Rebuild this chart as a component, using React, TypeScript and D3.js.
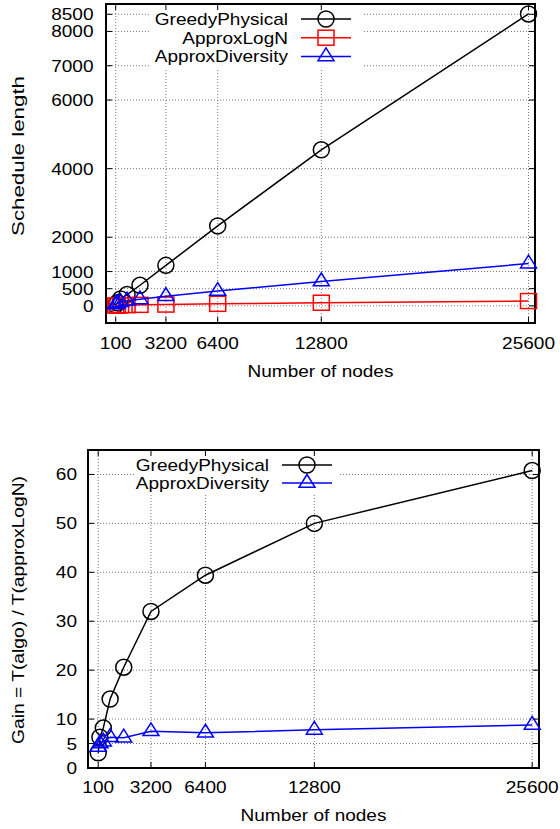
import React from "react";
import * as d3 from "d3";

// ---- data ----
const nodes = [100, 200, 400, 800, 1600, 3200, 6400, 12800, 25600];
const greedyLen = [30, 90, 200, 330, 600, 1180, 2330, 4550, 8510];
const logNLen = [9, 13, 17, 21, 29, 37, 59, 91, 140];
const diversityLen = [40, 70, 110, 150, 190, 280, 431, 710, 1232];
const greedyGain = [3.1, 6.3, 8.2, 14.1, 20.6, 32.0, 39.4, 50.0, 60.8];
const diversityGain = [4.3, 5.0, 5.4, 6.3, 6.2, 7.5, 7.2, 7.8, 8.8];

const xTicks = [100, 3200, 6400, 12800, 25600];
const yTicksTop = [0, 500, 1000, 2000, 4000, 6000, 7000, 8000, 8500];
const yTicksBot = [0, 5, 10, 20, 30, 40, 50, 60];

const FONT = "'Liberation Sans', Arial, Helvetica, sans-serif";
const FS = 17;
const SX = 1.12;

type Anchor = "start" | "middle" | "end";

function Txt({ x, y, anchor = "start", children }: { x: number; y: number; anchor?: Anchor; children: any }) {
  return (
    <text
      transform={`translate(${x},${y}) scale(${SX},1)`}
      textAnchor={anchor}
      fontSize={FS}
      fontFamily={FONT}
      fill="#000"
    >
      {children}
    </text>
  );
}

function Marker({ type, x, y, color }: { type: string; x: number; y: number; color: string }) {
  if (type === "circle") return <circle cx={x} cy={y} r={8} fill="none" stroke={color} strokeWidth={1.5} />;
  if (type === "square")
    return <rect x={x - 8} y={y - 7.5} width={16} height={15} fill="none" stroke={color} strokeWidth={1.5} />;
  return (
    <path
      d={`M${x},${y - 8.5} L${x - 8},${y + 4.3} L${x + 8},${y + 4.3} Z`}
      fill="none"
      stroke={color}
      strokeWidth={1.5}
    />
  );
}

type Series = { name: string; values: number[]; color: string; marker: string };

function Chart({
  left, right, top, bottom, yDomain, yTicks, series, yLabel, yLabelLen, yLabelCenter,
  yTickRight, xTickBase, xTitleBase, keyBox, keyTextRight, keyLineX0, keyLineX1, keyRows,
}: any) {
  const x = d3.scaleLinear().domain([-500, 26000]).range([left, right]);
  const y = d3.scaleLinear().domain(yDomain).range([bottom, top]);
  const tl = 6;
  const line = (vals: number[]) =>
    d3.line<number>().x((_, i) => x(nodes[i])).y((v) => y(v))(vals) || "";
  return (
    <g>
      {/* grid */}
      <g stroke="#777" strokeWidth={1} strokeDasharray="1,2" fill="none">
        {xTicks.map((t) => (
          <line key={"gx" + t} x1={x(t)} x2={x(t)} y1={top} y2={bottom} />
        ))}
        {yTicks.map((t: number) => (
          <line key={"gy" + t} x1={left} x2={right} y1={y(t)} y2={y(t)} />
        ))}
      </g>
      {/* key background */}
      <rect x={keyBox[0]} y={keyBox[1]} width={keyBox[2] - keyBox[0]} height={keyBox[3] - keyBox[1]} fill="#fff" />
      {/* ticks */}
      <g stroke="#000" strokeWidth={1}>
        {xTicks.map((t) => (
          <g key={"tx" + t}>
            <line x1={x(t)} x2={x(t)} y1={bottom} y2={bottom - tl} />
            <line x1={x(t)} x2={x(t)} y1={top} y2={top + tl} />
          </g>
        ))}
        {yTicks.map((t: number) => (
          <g key={"ty" + t}>
            <line x1={left} x2={left + tl} y1={y(t)} y2={y(t)} />
            <line x1={right} x2={right - tl} y1={y(t)} y2={y(t)} />
          </g>
        ))}
      </g>
      {/* frame */}
      <rect x={left} y={top} width={right - left} height={bottom - top} fill="none" stroke="#000" strokeWidth={2} />
      {/* tick labels */}
      {xTicks.map((t) => (
        <Txt key={"lx" + t} x={x(t)} y={xTickBase} anchor="middle">{t}</Txt>
      ))}
      {yTicks.map((t: number) => (
        <Txt key={"ly" + t} x={yTickRight} y={y(t) + 6} anchor="end">{t}</Txt>
      ))}
      {/* axis titles */}
      <Txt x={(left + right) / 2} y={xTitleBase} anchor="middle">Number of nodes</Txt>
      <text
        transform={`translate(24,${yLabelCenter}) rotate(-90)`}
        textAnchor="middle"
        fontSize={FS}
        fontFamily={FONT}
        textLength={yLabelLen}
        lengthAdjust="spacingAndGlyphs"
      >
        {yLabel}
      </text>
      {/* series */}
      {series.map((s: Series) => (
        <g key={s.name}>
          <path d={line(s.values)} fill="none" stroke={s.color} strokeWidth={1.5} />
          {s.values.map((v, i) => (
            <Marker key={i} type={s.marker} x={x(nodes[i])} y={y(v)} color={s.color} />
          ))}
        </g>
      ))}
      {/* legend */}
      {series.map((s: Series, i: number) => (
        <g key={"k" + s.name}>
          <Txt x={keyTextRight} y={keyRows[i] + 6} anchor="end">{s.name}</Txt>
          <line x1={keyLineX0} x2={keyLineX1} y1={keyRows[i]} y2={keyRows[i]} stroke={s.color} strokeWidth={1.5} />
          <Marker type={s.marker} x={(keyLineX0 + keyLineX1) / 2} y={keyRows[i]} color={s.color} />
        </g>
      ))}
    </g>
  );
}

export default function App() {
  const topSeries: Series[] = [
    { name: "GreedyPhysical", values: greedyLen, color: "#000000", marker: "circle" },
    { name: "ApproxLogN", values: logNLen, color: "#ff0000", marker: "square" },
    { name: "ApproxDiversity", values: diversityLen, color: "#0000ff", marker: "triangle" },
  ];
  const botSeries: Series[] = [
    { name: "GreedyPhysical", values: greedyGain, color: "#000000", marker: "circle" },
    { name: "ApproxDiversity", values: diversityGain, color: "#0000ff", marker: "triangle" },
  ];
  return (
    <svg
      width={560}
      height={829}
      style={{ position: "absolute", left: 0, top: 0, background: "#fff" }}
    >
      <rect x={0} y={0} width={560} height={829} fill="#fff" />
      <Chart
        left={106} right={535} top={4} bottom={323}
        yDomain={[-500, 8800]} yTicks={yTicksTop} series={topSeries}
        yLabel="Schedule length" yLabelLen={160} yLabelCenter={156}
        yTickRight={93.5} xTickBase={349} xTitleBase={377}
        keyBox={[150, 5, 362, 68]} keyTextRight={288} keyLineX0={301} keyLineX1={351}
        keyRows={[19, 37.7, 56.4]}
      />
      <Chart
        left={88} right={539} top={450} bottom={768}
        yDomain={[0, 65]} yTicks={yTicksBot} series={botSeries}
        yLabel="Gain = T(algo) / T(approxLogN)" yLabelLen={268} yLabelCenter={610}
        yTickRight={77} xTickBase={793} xTitleBase={821}
        keyBox={[136, 451, 340, 494]} keyTextRight={269} keyLineX0={282} keyLineX1={332}
        keyRows={[465, 483]}
      />
    </svg>
  );
}
